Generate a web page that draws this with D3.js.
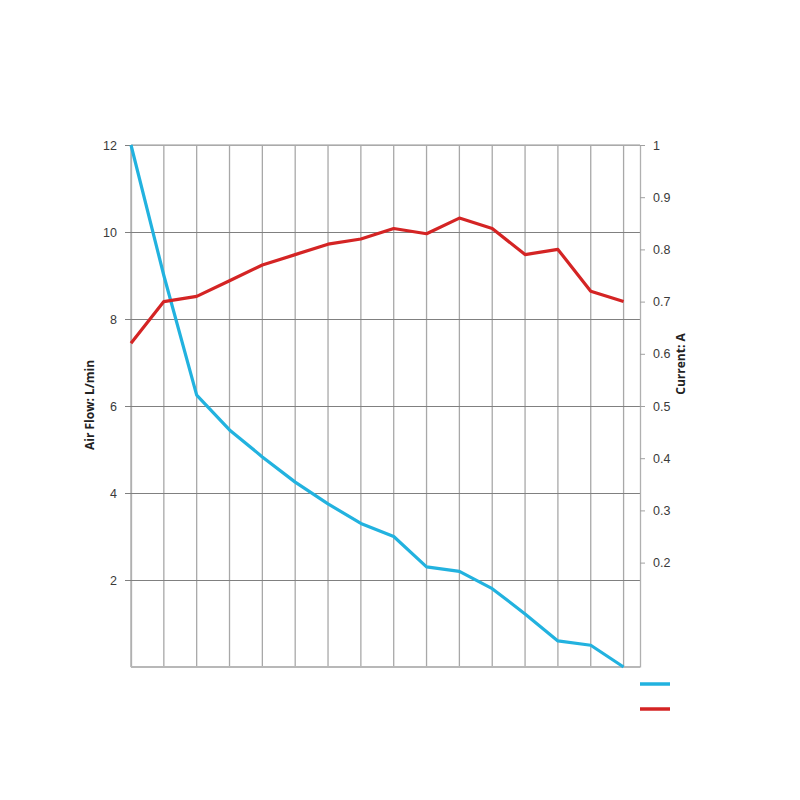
<!DOCTYPE html>
<html>
<head>
<meta charset="utf-8">
<script src="https://cdn.jsdelivr.net/npm/d3@7"></script>
<style>
  body { margin: 0; background: #fff; }
  svg { font-family: "Open Sans", "Liberation Sans", sans-serif; }
</style>
</head>
<body>
<div id="chart"></div>
<script>
const points = d3.range(16);
const airFlow = [12, 9.0, 6.25, 5.45, 4.83, 4.25, 3.75, 3.3, 3.0, 2.3, 2.2, 1.8, 1.22, 0.6, 0.5, 0];
const current = [0.62, 0.70, 0.71, 0.74, 0.77, 0.79, 0.81, 0.82, 0.84, 0.83, 0.86, 0.84, 0.79, 0.80, 0.72, 0.70];
const leftTicks = [2, 4, 6, 8, 10, 12];
const rightTicks = [0.2, 0.3, 0.4, 0.5, 0.6, 0.7, 0.8, 0.9, 1];

const width = 800, height = 800;
const margin = { top: 145, right: 160, bottom: 133, left: 131 };
const plotW = width - margin.left - margin.right;   // 509
const plotH = height - margin.top - margin.bottom;  // 522

const svg = d3.select("#chart")
    .append("svg")
    .attr("width", width)
    .attr("height", height);

const g = svg.append("g")
    .attr("transform", `translate(${margin.left}, ${margin.top})`);

// Scales
const x = d3.scaleLinear().domain([0, 15.5]).range([0, plotW]);
const yLeft = d3.scaleLinear().domain([0, 12]).range([plotH, 0]);
const yRight = d3.scaleLinear().domain([0, 1]).range([plotH, 0]);

// vertical grid lines at every point
g.append("g")
    .selectAll("line")
    .data(points)
    .enter()
    .append("line")
    .attr("x1", d => x(d))
    .attr("x2", d => x(d))
    .attr("y1", 0)
    .attr("y2", plotH)
    .attr("stroke", "#a8a8a8")
    .attr("stroke-width", 1.3);

// horizontal grid from the left axis
const leftAxis = g.append("g")
    .call(d3.axisLeft(yLeft)
        .tickValues(leftTicks)
        .tickSize(-plotW - 6)
        .tickSizeOuter(0)
        .tickPadding(8));
leftAxis.selectAll(".tick line")
    .attr("x1", -6)
    .attr("x2", plotW)
    .attr("stroke", "#808080")
    .attr("stroke-width", 1.2);
leftAxis.select(".domain").attr("stroke", "#b0b0b0").attr("stroke-width", 1.3);
leftAxis.selectAll("text")
    .attr("x", -14)
    .style("font-size", "12.5px")
    .attr("fill", "#3a3a3a");

// top and bottom border lines
g.append("line")
    .attr("x1", 0).attr("x2", plotW)
    .attr("y1", yLeft(12)).attr("y2", yLeft(12))
    .attr("stroke", "#b8b8b8").attr("stroke-width", 1.3);
g.append("line")
    .attr("x1", 0).attr("x2", plotW)
    .attr("y1", yLeft(0)).attr("y2", yLeft(0))
    .attr("stroke", "#b8b8b8").attr("stroke-width", 2);

// Right axis
const rightAxis = g.append("g")
    .attr("transform", `translate(${plotW}, 0)`)
    .call(d3.axisRight(yRight)
        .tickValues(rightTicks)
        .tickFormat(d3.format("~g"))
        .tickSize(5)
        .tickSizeOuter(0)
        .tickPadding(8));
rightAxis.select(".domain").attr("stroke", "#b0b0b0").attr("stroke-width", 1.3);
rightAxis.selectAll(".tick line").attr("stroke", "#a0a0a0");
rightAxis.selectAll("text")
    .style("font-size", "12.5px")
    .attr("fill", "#3a3a3a");

// Axis titles
svg.append("text")
    .attr("transform", "translate(94, 405) rotate(-90)")
    .attr("text-anchor", "middle")
    .style("font-size", "12px")
    .style("font-weight", "bold")
    .attr("fill", "#222")
    .text("Air Flow: L/min");

svg.append("text")
    .attr("transform", "translate(685, 364) rotate(-90)")
    .attr("text-anchor", "middle")
    .style("font-size", "12px")
    .style("font-weight", "bold")
    .attr("fill", "#222")
    .text("Current: A");

// Lines
const series = [
    { name: "Air Flow", values: airFlow, scale: yLeft, color: "#22b2df" },
    { name: "Current", values: current, scale: yRight, color: "#d42424" }
];

series.forEach(s => {
    const line = d3.line()
        .x((d, i) => x(points[i]))
        .y(d => s.scale(d));
    g.append("path")
        .datum(s.values)
        .attr("fill", "none")
        .attr("stroke", s.color)
        .attr("stroke-width", 3.2)
        .attr("stroke-linejoin", "round")
        .attr("d", line);
});

// Legend (labels are blanked out in the reference)
const legend = svg.append("g").attr("transform", "translate(640, 684)");
legend.selectAll("line")
    .data(series)
    .enter()
    .append("line")
    .attr("x1", 0)
    .attr("x2", 30)
    .attr("y1", (d, i) => i * 25)
    .attr("y2", (d, i) => i * 25)
    .attr("stroke", d => d.color)
    .attr("stroke-width", 3.5);
</script>
</body>
</html>
